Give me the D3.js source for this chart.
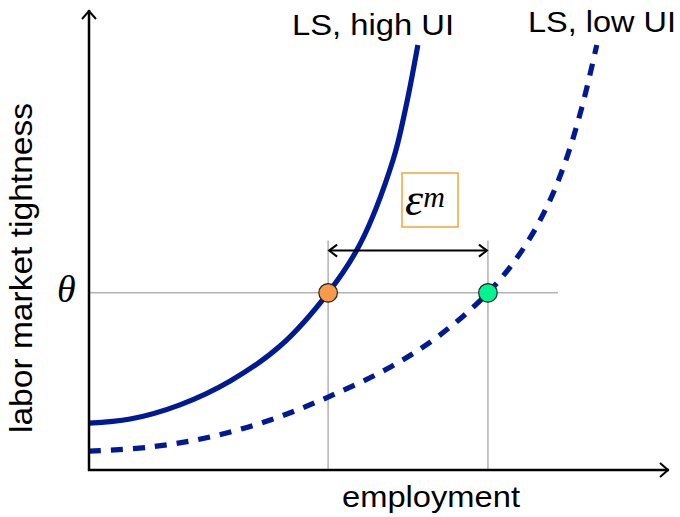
<!DOCTYPE html>
<html>
<head>
<meta charset="utf-8">
<script src="https://cdn.jsdelivr.net/npm/d3@7"></script>
<style>
html,body{margin:0;padding:0;background:#fff;}
svg{display:block;}
</style>
</head>
<body>
<svg id="chart" width="680" height="517"></svg>
<script>
// ---- data ----
const highUI_employment = [0.00,0.71,1.57,2.44,3.30,4.13,4.68,5.25,5.47,5.68];
const highUI_tightness  = [1.02,1.11,1.42,1.94,2.70,3.86,4.92,6.75,7.89,9.26];
const lowUI_employment  = [0.00,1.05,2.09,3.13,4.13,5.20,6.06,6.89,7.44,7.88,8.22,8.51,8.77];
const lowUI_tightness   = [0.41,0.50,0.72,1.09,1.59,2.24,2.94,3.86,4.71,5.66,6.69,7.89,9.26];
const theta = 3.86;
const employmentHigh = 4.13;
const employmentLow = 6.89;
const gapTop = 5.0;          // top of the vertical guide lines
const gapArrow = 4.78;       // level of the double arrow
const thetaLineEnd = 8.1;    // end of theta guide line
const labels = {x:"employment", y:"labor market tightness", high:"LS, high UI", low:"LS, low UI", theta:"θ"};

const svg = d3.select("#chart");
const x = d3.scaleLinear().domain([0,10]).range([89,668]);
const y = d3.scaleLinear().domain([0,10]).range([470,11]);

const navy = "#001a94";
const grey = "#b3b3b3";

// guide lines
svg.append("line").attr("x1",x(0)).attr("x2",x(thetaLineEnd)).attr("y1",y(theta)).attr("y2",y(theta))
  .attr("stroke",grey).attr("stroke-width",1.5);
[employmentHigh, employmentLow].forEach(e=>{
  svg.append("line").attr("x1",x(e)).attr("x2",x(e)).attr("y1",y(gapTop)).attr("y2",y(0))
    .attr("stroke",grey).attr("stroke-width",1.5);
});

// curves
const line = d3.line().x(d=>x(d[0])).y(d=>y(d[1])).curve(d3.curveCatmullRom.alpha(0.5));
const highPts = d3.zip(highUI_employment, highUI_tightness);
const lowPts = d3.zip(lowUI_employment, lowUI_tightness);
svg.append("path").attr("d", line(highPts)).attr("fill","none").attr("stroke",navy).attr("stroke-width",5.2);
svg.append("path").attr("d", line(lowPts)).attr("fill","none").attr("stroke",navy).attr("stroke-width",5.2)
  .attr("stroke-dasharray","12,10");

// axes with arrow heads
const ax = svg.append("g").attr("stroke","#000").attr("fill","none").attr("stroke-width",2.5);
ax.append("line").attr("x1",x(0)).attr("y1",y(0)+1).attr("x2",x(0)).attr("y2",y(10)-1);
ax.append("line").attr("x1",x(0)-1).attr("y1",y(0)).attr("x2",x(10)+1).attr("y2",y(0));
ax.append("path").attr("d",`M${x(0)-7},${y(10)+8} L${x(0)},${y(10)} L${x(0)+7},${y(10)+8}`).attr("stroke-width",2);
ax.append("path").attr("d",`M${x(10)-8},${y(0)-7} L${x(10)},${y(0)} L${x(10)-8},${y(0)+7}`).attr("stroke-width",2);

// double arrow
const ay = y(gapArrow);
const da = svg.append("g").attr("stroke","#000").attr("fill","none").attr("stroke-width",2);
da.append("line").attr("x1",x(employmentHigh)+1).attr("x2",x(employmentLow)-1).attr("y1",ay).attr("y2",ay);
da.append("path").attr("d",`M${x(employmentHigh)+9},${ay-6} L${x(employmentHigh)+1},${ay} L${x(employmentHigh)+9},${ay+6}`);
da.append("path").attr("d",`M${x(employmentLow)-9},${ay-6} L${x(employmentLow)-1},${ay} L${x(employmentLow)-9},${ay+6}`);

// epsilon box
svg.append("rect").attr("x",402).attr("y",173).attr("width",56).attr("height",54)
  .attr("fill","none").attr("stroke","#f5a43a").attr("stroke-width",1.5);
const eps = svg.append("text").attr("x",405).attr("y",215)
  .attr("font-family","Liberation Serif, DejaVu Serif, serif").attr("font-style","italic").attr("fill","#000");
eps.append("tspan").attr("font-size",46).text("ε");
eps.append("tspan").attr("font-size",30).attr("dy",-8).text("m");

// points
svg.append("circle").attr("cx",x(employmentHigh)).attr("cy",y(theta)).attr("r",9.3)
  .attr("fill","#f79a4a").attr("stroke","#222").attr("stroke-width",1.2);
svg.append("circle").attr("cx",x(employmentLow)).attr("cy",y(theta)).attr("r",9.3)
  .attr("fill","#00f592").attr("stroke","#222").attr("stroke-width",1.2);

// texts
const sans = "Liberation Sans, Arial, sans-serif";
svg.append("text").attr("x",292).attr("y",35).attr("font-family",sans).attr("font-size",30)
  .attr("textLength",162).attr("lengthAdjust","spacingAndGlyphs").text(labels.high);
svg.append("text").attr("x",528).attr("y",32).attr("font-family",sans).attr("font-size",30)
  .attr("textLength",148).attr("lengthAdjust","spacingAndGlyphs").text(labels.low);
svg.append("text").attr("x",342).attr("y",507).attr("font-family",sans).attr("font-size",30)
  .attr("textLength",178).attr("lengthAdjust","spacingAndGlyphs").text(labels.x);
svg.append("text").attr("transform","translate(32,433) rotate(-90)").attr("font-family",sans).attr("font-size",32)
  .attr("textLength",330).attr("lengthAdjust","spacingAndGlyphs").text(labels.y);
svg.append("text").attr("x",57).attr("y",302).attr("font-family","Liberation Serif, DejaVu Serif, serif")
  .attr("font-style","italic").attr("font-size",38).text(labels.theta);
</script>
</body>
</html>
